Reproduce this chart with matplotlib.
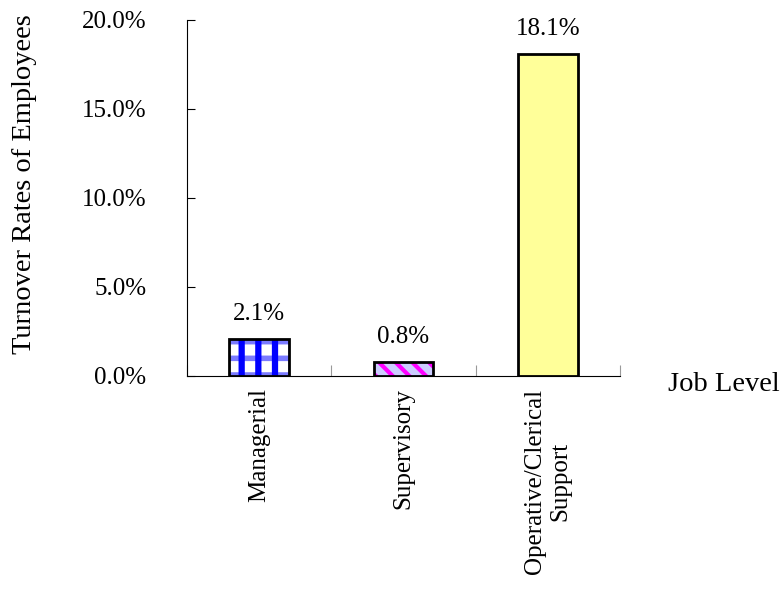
import matplotlib
matplotlib.use("Agg")
import matplotlib.pyplot as plt
from matplotlib.ticker import FuncFormatter

plt.rcParams['font.family'] = ['Liberation Serif', 'DejaVu Serif']

categories = ["Managerial", "Supervisory", "Operative/Clerical\nSupport"]
rates = [2.1, 0.8, 18.1]
y_ticks = [0, 5, 10, 15, 20]

fig = plt.figure(figsize=(7.82, 6.04), dpi=100)
ax = fig.add_axes([0.239, 0.3775, 0.554, 0.5895])

x = list(range(len(categories)))
w = 0.41
FS = 18
TITLE_FS = 20.5


def layer(xi, v, face, hcolor, hatch, hlw):
    plt.rcParams['hatch.linewidth'] = hlw
    b = ax.bar(xi, v, width=w, color=face, edgecolor=hcolor, hatch=hatch, linewidth=0, zorder=2)
    for p in b:
        if hasattr(p, "set_hatch_linewidth"):
            p.set_hatch_linewidth(hlw)


# Managerial: dotted horizontal bands with solid blue verticals
layer(x[0], rates[0], "white", "#7a7aff", "-", 4.0)
layer(x[0], rates[0], "none", "#0000ff", "|", 4.5)
# Supervisory: magenta diagonal stripes on lavender
layer(x[1], rates[1], "#ccccff", "#ff00ff", "\\\\", 3.0)
# Operative/Clerical Support: plain pale yellow
layer(x[2], rates[2], "#ffff99", "#ffff99", None, 1.0)

for xi, v in zip(x, rates):
    ax.bar(xi, v, width=w, fill=False, edgecolor="black", linewidth=2, zorder=3)
    ax.text(xi, v + 0.75, f"{v:.1f}%", ha="center", va="bottom", fontsize=FS)

ax.set_xlim(-0.5, 2.5)
ax.set_ylim(0, 20)
ax.set_yticks(y_ticks)
ax.yaxis.set_major_formatter(FuncFormatter(lambda v, p: f"{v:.1f}%"))
ax.tick_params(axis="y", direction="in", length=6, labelsize=FS, pad=29)
ax.set_xticks([-0.5, 0.5, 1.5, 2.5], minor=False)
ax.set_xticklabels([])
ax.tick_params(axis="x", direction="in", length=8, colors="#999999")
ax.set_xticks(x, minor=True)
ax.set_xticklabels(categories, minor=True, rotation=90, fontsize=FS, va="top", ha="center", multialignment="center")
ax.tick_params(axis="x", which="minor", length=0, pad=9)

for s in ["top", "right"]:
    ax.spines[s].set_visible(False)

ax.set_ylabel("Turnover Rates of Employees", fontsize=TITLE_FS)
ax.yaxis.set_label_coords(-0.347, 0.538)
fig.text(0.997, 0.364, "Job Level", fontsize=TITLE_FS, ha="right", va="center")

fig.savefig("out.png", dpi=100)
